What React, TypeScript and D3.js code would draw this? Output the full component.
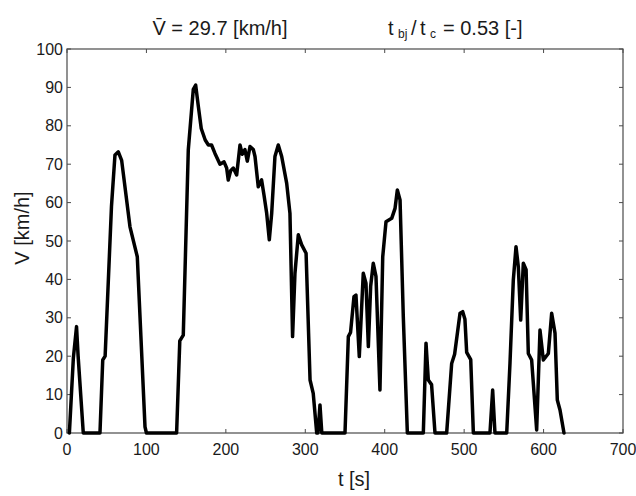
import React from "react";
import * as d3 from "d3";

const T = [3, 8, 12, 14, 20.5, 41.5, 45, 48, 56, 60.4, 64.6, 68.8, 79.3, 88.5, 98.2, 100, 138, 142, 146.4, 152.7, 159, 162, 165.4, 169, 174, 178, 182, 186.3, 192.6, 197.7, 201, 203, 206, 209.4, 213.6, 217.8, 220.7, 224, 227, 230.4, 234.6, 236.7, 240.8, 245, 248, 251.4, 254.7, 257.7, 261.8, 266, 270.3, 276.6, 280.7, 284, 287, 291.2, 295.5, 301, 306, 310, 314.4, 316, 318.5, 320.8, 350, 354.2, 357, 361.3, 363.8, 368, 373, 376.4, 379.4, 382.3, 385.6, 389, 394, 397.5, 401.6, 408.8, 413, 415.9, 419.3, 423.4, 428.5, 448.6, 452, 454.9, 459, 463.3, 478, 484.3, 488, 494.8, 498.2, 501, 503.2, 508.3, 511.6, 532.5, 535.9, 538.8, 553.6, 557.7, 561.9, 565.3, 568.2, 571.2, 574.5, 578, 580.8, 585, 591.3, 595.5, 599.7, 606, 610.2, 614.4, 617.3, 620.7, 625.7];
const V = [0, 19.5, 27.7, 20, 0, 0, 19, 20, 59, 72.4, 73.2, 71, 53.7, 45.9, 1.6, 0, 0, 24, 25.5, 73.7, 89.5, 90.6, 85, 79.3, 76.3, 75, 75, 72.8, 70, 70.6, 69, 65.9, 68.3, 69, 67.2, 75, 72.6, 73.8, 70.8, 74.6, 73.8, 72, 64.1, 65.9, 62, 57.2, 50.3, 57.2, 72, 75, 72, 65, 57.2, 25.1, 41.6, 51.6, 49, 46.8, 13.8, 10.3, 0, 0, 7.3, 0, 0, 25.1, 26.2, 35.5, 35.9, 19.9, 41.6, 39, 22.5, 38.2, 44.2, 40.8, 11.2, 45.9, 55, 55.9, 58.5, 63.3, 60.7, 30.3, 0, 0, 23.4, 13.8, 12.6, 0, 0, 18.1, 20.5, 31.2, 31.6, 29.6, 21, 19.1, 0, 0, 11.2, 0, 0, 18.1, 39.8, 48.5, 43.3, 29.4, 44.2, 42.5, 20.7, 19, 0.8, 26.8, 19, 20.7, 31.2, 26, 8.6, 6, 0];

const X_TICKS = [0, 100, 200, 300, 400, 500, 600, 700];
const Y_TICKS = [0, 10, 20, 30, 40, 50, 60, 70, 80, 90, 100];

const X_LABEL = "t [s]";
const Y_LABEL = "V [km/h]";
const TITLE_V = "V\u0304 = 29.7 [km/h]";

export default function App() {
  const W = 636, H = 496;
  const L = 67, R = 623, TOP = 49, B = 433;
  const x = d3.scaleLinear().domain([0, 700]).range([L, R]);
  const y = d3.scaleLinear().domain([0, 100]).range([B, TOP]);
  const pts = T.map((t, i) => [t, V[i]] as [number, number]);
  const line = d3.line<[number, number]>().x(d => x(d[0])).y(d => y(d[1]));
  const font = "'Liberation Sans', Arial, sans-serif";
  const tc = "#1a1a1a";
  const tick = 4;
  return (
    <svg width={W} height={H} style={{ position: "absolute", left: 0, top: 0, background: "#fff" }} fontFamily={font}>
      <rect x={0} y={0} width={W} height={H} fill="#fff" />
      <rect x={L} y={TOP} width={R - L} height={B - TOP} fill="none" stroke="#4a4a4a" strokeWidth={1.2} />
      {X_TICKS.map(t => (
        <g key={"xt" + t}>
          <line x1={x(t)} x2={x(t)} y1={B} y2={B - tick} stroke="#4a4a4a" />
          <line x1={x(t)} x2={x(t)} y1={TOP} y2={TOP + tick} stroke="#4a4a4a" />
          <text x={x(t)} y={B + 22} textAnchor="middle" fontSize={16} fill={tc}>{t}</text>
        </g>
      ))}
      {Y_TICKS.map(v => (
        <g key={"yt" + v}>
          <line x1={L} x2={L + tick} y1={y(v)} y2={y(v)} stroke="#4a4a4a" />
          <line x1={R} x2={R - tick} y1={y(v)} y2={y(v)} stroke="#4a4a4a" />
          <text x={L - 4} y={y(v) + 5.5} textAnchor="end" fontSize={16} fill={tc}>{v}</text>
        </g>
      ))}
      <path d={line(pts) || ""} fill="none" stroke="#000" strokeWidth={3.5} strokeLinejoin="round" strokeLinecap="round" />
      <text x={354} y={486} textAnchor="middle" fontSize={20} fill={tc}>{X_LABEL}</text>
      <text transform={`translate(29,228) rotate(-90)`} textAnchor="middle" fontSize={20} fill={tc}>{Y_LABEL}</text>
      <text x={220} y={35} textAnchor="middle" fontSize={20} fill={tc}>{TITLE_V}</text>
      <text y={35} fontSize={20} fill={tc}>
        <tspan x={388}>t</tspan>
        <tspan x={398} dy={3} fontSize={12}>bj</tspan>
        <tspan x={411} dy={-3}>/</tspan>
        <tspan x={420}>t</tspan>
        <tspan x={430} dy={3} fontSize={12}>c</tspan>
        <tspan x={443} dy={-3}>= 0.53 [-]</tspan>
      </text>
    </svg>
  );
}
